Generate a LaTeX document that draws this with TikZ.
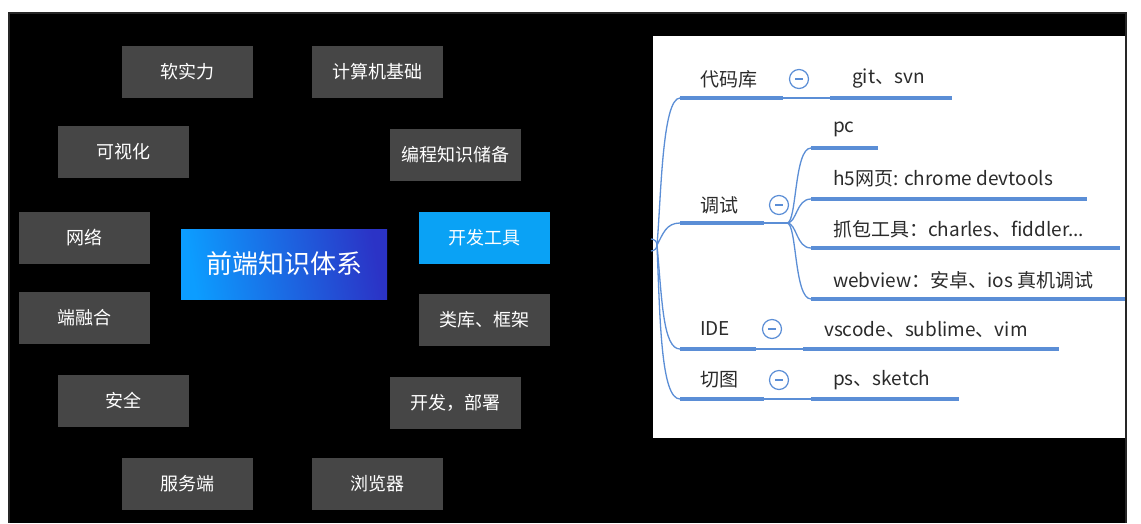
\documentclass[tikz,border=0pt]{standalone}
\usepackage{fontspec}
\setmainfont{Noto Sans CJK SC}
\usetikzlibrary{arrows.meta, positioning, fit}
\definecolor{boxgrey}{HTML}{464646}
\definecolor{toolblue}{HTML}{0AA2F5}
\definecolor{coreleft}{HTML}{0C9DFF}
\definecolor{coreright}{HTML}{2B33C6}
\definecolor{mapblue}{HTML}{5B8ED6}
\definecolor{maptext}{HTML}{2B2B2B}

\begin{document}
\begin{tikzpicture}[
      x=1pt, y=-1pt,
      topic/.style={fill=boxgrey, minimum width=131, minimum height=52, inner sep=0pt,
        text=white, font=\fontsize{18}{20}\selectfont},
      core/.style={minimum width=206, minimum height=70, inner sep=0pt, text=white,
        left color=coreleft, right color=coreright, shading angle=100,
        font=\fontsize{26}{28}\selectfont},
      item/.style={anchor=west, inner sep=0pt, text=maptext, font=\fontsize{19}{21}\selectfont},
      bar/.style={anchor=west, fill=mapblue, minimum height=4, inner sep=0pt},
      link/.style={draw=mapblue, line width=1.3pt},
      fold/.style={circle, draw=mapblue, line width=1.2pt, minimum size=19, inner sep=0pt,
        path picture={\draw[mapblue, line width=1.2pt]
          ([xshift=-4pt]path picture bounding box.center) -- ([xshift=4pt]path picture bounding box.center);}}
      ]

      \useasboundingbox (0,0) rectangle (1141,523);
      \fill[white] (0,0) rectangle (1141,523);
      \fill[black!85] (8,12) rectangle (1127,523);
      \fill[black] (10,14) rectangle (1125,523);

      \node[topic] (a_0) at (187,72)  {软实力};
      \node[topic] (a_1) at (377,72)  {计算机基础};
      \node[topic] (a_2) at (123,152) {可视化};
      \node[topic] (a_3) at (455,155) {编程知识储备};
      \node[topic] (a_4) at (84,238)  {网络};
      \node[topic, fill=toolblue] (a_5) at (484,238) {开发工具};
      \node[topic] (a_6) at (84,318)  {端融合};
      \node[topic] (a_7) at (484,320) {类库、框架};
      \node[topic] (a_8) at (123,401) {安全};
      \node[topic] (a_9) at (455,403) {开发，部署};
      \node[topic] (a_10) at (187,484) {服务端};
      \node[topic] (a_11) at (377,484) {浏览器};
      \node[core]  (core) at (284,264) {前端知识体系};

      \fill[white] (653,36) rectangle (1125,438);
      \draw[mapblue, line width=1.2pt] (651,239) arc (-90:90:6);
      \coordinate (root) at (657,245);

      \node[bar, minimum width=103] (b_1) at (680,98)  {};
      \node[bar, minimum width=84]  (b_2) at (680,223) {};
      \node[bar, minimum width=76]  (b_3) at (680,349) {};
      \node[bar, minimum width=84]  (b_4) at (680,399) {};
      \node[bar, minimum width=122] (g_1) at (830,98)  {};
      \node[bar, minimum width=67]  (c_1) at (811,148) {};
      \node[bar, minimum width=276] (c_2) at (811,199) {};
      \node[bar, minimum width=309] (c_3) at (811,248) {};
      \node[bar, minimum width=314] (c_4) at (811,299) {};
      \node[bar, minimum width=256] (g_3) at (803,349) {};
      \node[bar, minimum width=148] (g_4) at (811,399) {};
      \coordinate (fork) at (787,223);

      \draw[link] (root) .. controls (661,200) and (662,98) .. (b_1.west);
      \draw[link] (root) .. controls (663,234) and (666,223) .. (b_2.west);
      \draw[link] (root) .. controls (662,300) and (663,349) .. (b_3.west);
      \draw[link] (root) .. controls (660,320) and (661,399) .. (b_4.west);
      \draw[link] (b_1.east) -- (g_1.west);
      \draw[link] (b_2.east) -- (fork);
      \draw[link] (b_3.east) -- (g_3.west);
      \draw[link] (b_4.east) -- (g_4.west);
      \draw[link] (fork) .. controls (797,223) and (794,148) .. (c_1.west);
      \draw[link] (fork) .. controls (797,223) and (796,199) .. (c_2.west);
      \draw[link] (fork) .. controls (797,223) and (796,248) .. (c_3.west);
      \draw[link] (fork) .. controls (797,223) and (794,299) .. (c_4.west);

      \node[fold] (f_1) at (799,79)  {};
      \node[fold] (f_2) at (779,205) {};
      \node[fold] (f_3) at (772,329) {};
      \node[fold] (f_4) at (779,380) {};

      \node[item] (t_1) at (700,79)  {代码库};
      \node[item] (t_2) at (700,205) {调试};
      \node[item] (t_3) at (700,329) {IDE};
      \node[item] (t_4) at (700,380) {切图};
      \node[item] (s_1) at (852,79)  {git、svn};
      \node[item] (d_1) at (833,129) {pc};
      \node[item] (d_2) at (833,179) {h5网页: chrome devtools};
      \node[item] (d_3) at (833,229) {抓包工具：charles、fiddler...};
      \node[item] (d_4) at (833,280) {webview：安卓、ios 真机调试};
      \node[item] (s_3) at (824,329) {vscode、sublime、vim};
      \node[item] (s_4) at (833,380) {ps、sketch};
    \end{tikzpicture}
\end{document}
